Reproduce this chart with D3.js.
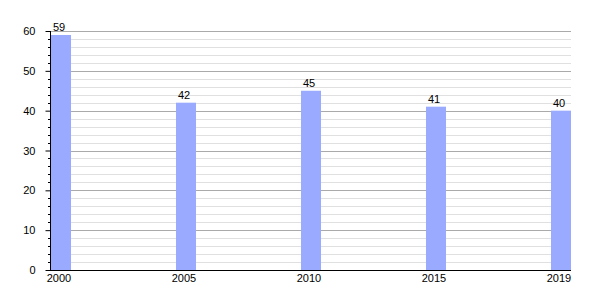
<!DOCTYPE html>
<html>
<head>
<meta charset="utf-8">
<script src="https://cdn.jsdelivr.net/npm/d3@7"></script>
<style>
  body { margin: 0; background: #fff; }
  text { font-family: "Liberation Sans", Arial, sans-serif; font-size: 11px; fill: #000; }
</style>
</head>
<body>
<svg id="chart" width="600" height="300"></svg>
<script>
// data
const years = ['2000', '2005', '2010', '2015', '2019'];
const values = [59, 42, 45, 41, 40];
const yTicks = [0, 10, 20, 30, 40, 50, 60];

const svg = d3.select('#chart');
const plotLeft = 50, plotRight = 571, plotTop = 31, plotBottom = 270;
const barW = 21;

let y = d3.scaleLinear().domain([0, 60]).range([plotBottom, plotTop]);
let x = d3.scalePoint().domain(years).range([plotLeft, plotRight - barW]);

// minor grid (every 2)
let minor = d3.range(2, 61, 2).filter(d => d % 10 !== 0);
svg.append('g').selectAll('line').data(minor).enter().append('line')
    .attr('x1', plotLeft).attr('x2', plotRight)
    .attr('y1', d => Math.round(y(d)) + 0.5).attr('y2', d => Math.round(y(d)) + 0.5)
    .style('stroke', '#e0e0e0');
svg.append('g').selectAll('line').data(minor).enter().append('line')
    .attr('x1', plotLeft - 2).attr('x2', plotLeft)
    .attr('y1', d => Math.round(y(d)) + 0.5).attr('y2', d => Math.round(y(d)) + 0.5)
    .style('stroke', '#000');

// major grid
svg.append('g').selectAll('line').data(yTicks.slice(1)).enter().append('line')
    .attr('x1', plotLeft).attr('x2', plotRight)
    .attr('y1', d => Math.round(y(d)) + 0.5).attr('y2', d => Math.round(y(d)) + 0.5)
    .style('stroke', '#aaa');

// bars
svg.append('g').selectAll('rect').data(values).enter().append('rect')
    .attr('x', (d, i) => x(years[i]) + 1)
    .attr('y', d => y(d))
    .attr('width', barW - 1)
    .attr('height', d => plotBottom - y(d))
    .style('fill', '#99aaff');

// value labels
svg.append('g').selectAll('text').data(values).enter().append('text')
    .attr('x', (d, i) => x(years[i]) + 9)
    .attr('y', d => y(d) - 4)
    .style('text-anchor', 'middle')
    .text(d => d);

// y axis
let yAxis = d3.axisLeft(y).tickValues(yTicks).tickSize(5).tickPadding(10);
let gy = svg.append('g').attr('transform', 'translate(' + (plotLeft + 0.5) + ',0)').call(yAxis);
gy.selectAll('text').style('font-size', '11px').style('font-family', '"Liberation Sans", Arial, sans-serif');
gy.select('.domain').attr('d', 'M0,' + plotTop + 'V' + plotBottom);

// x axis
svg.append('line')
    .attr('x1', plotLeft).attr('x2', plotRight)
    .attr('y1', plotBottom + 0.5).attr('y2', plotBottom + 0.5)
    .style('stroke', '#000');
svg.append('g').selectAll('text').data(years).enter().append('text')
    .attr('x', d => x(d) + 9)
    .attr('y', plotBottom + 12)
    .style('text-anchor', 'middle')
    .text(d => d);
</script>
</body>
</html>
